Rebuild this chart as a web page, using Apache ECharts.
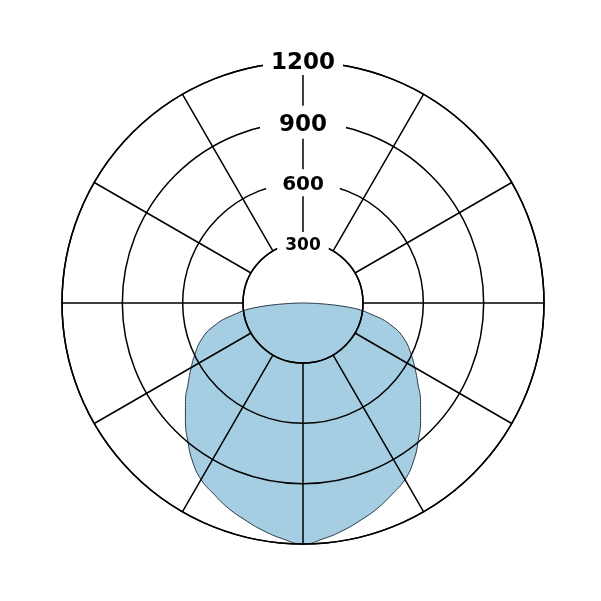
<!DOCTYPE html>
<html><head><meta charset="utf-8">
<script src="https://cdn.jsdelivr.net/npm/echarts@6/dist/echarts.min.js"></script>
<style>html,body{margin:0;padding:0;background:#fff}#c{width:601px;height:601px}</style>
</head><body><div id="c"></div>
<script>
// Ring tick labels (cd)
const ringTicks = [300, 600, 900, 1200];
// Angles measured from nadir (0 = straight down), degrees
const angles = [-90,-85,-80,-75,-70,-65,-60,-55,-50,-45,-40,-35,-30,-25,-20,-15,-10,-5,
                0,5,10,15,20,25,30,35,40,45,50,55,60,65,70,75,80,85,90];
// Luminous intensity (cd)
const intensity = [0,215,360,468,540,592,643,698,764,828,893,960,1015,1050,1087,1118,1150,1178,
                   1200,1178,1150,1118,1087,1050,1015,960,893,828,764,698,643,592,540,468,360,215,0];

const labelStyles = {
  s300:  {fontSize:17, lineHeight:14, padding:[5,8,0,8]},
  s600:  {fontSize:20, lineHeight:20, padding:[6,16,1,16]},
  s900:  {fontSize:23, lineHeight:23, padding:[8,19,2,19]},
  s1200: {fontSize:23, lineHeight:23, padding:[3,8,0,8]}
};
const rich = {};
for (const k in labelStyles) {
  rich[k] = Object.assign({fontFamily:'DejaVu Sans', fontWeight:'bold', color:'#000', backgroundColor:'#fff'}, labelStyles[k]);
}

const chart = echarts.init(document.getElementById('c'), null, {renderer:'canvas'});
const line = {color:'#000', width:1.5};
chart.setOption({
  animation:false,
  backgroundColor:'#fff',
  polar:[
    {center:[303,303], radius:[60,241]},
    {center:[303,303], radius:[0,241]}
  ],
  angleAxis:[
    {polarIndex:0, type:'value', min:0, max:360, interval:30, startAngle:90, z:10,
     axisLine:{show:true, lineStyle:line}, axisTick:{show:false}, axisLabel:{show:false},
     splitLine:{show:true, lineStyle:line}},
    {polarIndex:1, type:'value', min:-180, max:180, startAngle:90, show:false,
     axisLine:{show:false}, axisTick:{show:false}, axisLabel:{show:false}, splitLine:{show:false}}
  ],
  radiusAxis:[
    {polarIndex:0, type:'value', min:ringTicks[0], max:ringTicks[ringTicks.length-1], interval:300, z:11,
     axisLine:{show:false}, axisTick:{show:false},
     splitLine:{show:true, lineStyle:line},
     axisLabel:{show:true, margin:0, align:'center', verticalAlign:'middle', showMinLabel:true, showMaxLabel:true,
       formatter:v => ringTicks.includes(v) ? `{s${v}|${v}}` : '', rich:rich}},
    {polarIndex:1, type:'value', min:0, max:1200, show:false,
     axisLine:{show:false}, axisTick:{show:false}, axisLabel:{show:false}, splitLine:{show:false}}
  ],
  series:[{
    type:'line', coordinateSystem:'polar', polarIndex:1, smooth:true, symbol:'none', clip:false, z:2,
    lineStyle:{color:'#2b3a44', width:1},
    areaStyle:{color:'#a6cee3', opacity:1},
    data: angles.map((a,i)=>[intensity[i], a])
  }]
});
</script></body></html>
